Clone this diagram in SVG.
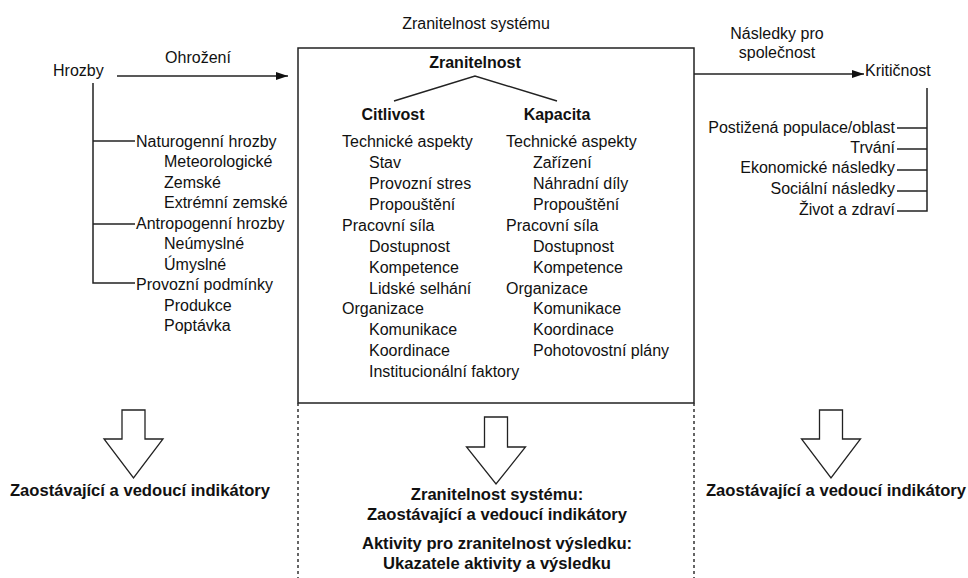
<svg xmlns="http://www.w3.org/2000/svg" width="968" height="578" viewBox="0 0 968 578">
<defs>
<marker id="ah" viewBox="0 0 12 8" refX="12" refY="4" markerWidth="12" markerHeight="8" markerUnits="userSpaceOnUse" orient="auto">
<path d="M0,0 L12,4 L0,8 Z" fill="#111"/>
</marker>
<style>
text{font-family:"Liberation Sans",Arial,sans-serif;font-size:16px;fill:#111}
.b{font-weight:bold}
.bb{font-weight:bold;font-size:16.6px}
.m{text-anchor:middle}
.e{text-anchor:end}
.ln{stroke:#222;stroke-width:1.5;fill:none}
.dash{stroke:#333;stroke-width:1.5;fill:none;stroke-dasharray:3 3}
.blk{fill:#fff;stroke:#222;stroke-width:1.3;stroke-linejoin:miter}
</style>
</defs>
<rect width="968" height="578" fill="#fff"/>

<g id="system-box">
<rect x="298" y="48" width="396" height="355" class="ln"/>
<line x1="298" y1="403" x2="298" y2="578" class="dash"/>
<line x1="694" y1="403" x2="694" y2="578" class="dash"/>
<text x="476" y="29" class="m">Zranitelnost systému</text>
</g>

<g id="zranitelnost">
<text x="475" y="68" class="b m">Zranitelnost</text>
<polyline points="394,101 475,76 557,101" class="ln"/>
</g>

<g id="citlivost">
<text x="393" y="120" class="b m">Citlivost</text>
<text x="342" y="147.2">Technické aspekty</text>
<text x="369" y="168.1">Stav</text>
<text x="369" y="189">Provozní stres</text>
<text x="369" y="209.9">Propouštění</text>
<text x="342" y="230.8">Pracovní síla</text>
<text x="369" y="251.7">Dostupnost</text>
<text x="369" y="272.6">Kompetence</text>
<text x="369" y="293.5">Lidské selhání</text>
<text x="342" y="314.4">Organizace</text>
<text x="369" y="335.3">Komunikace</text>
<text x="369" y="356.2">Koordinace</text>
<text x="369" y="377.1">Institucionální faktory</text>
</g>

<g id="kapacita">
<text x="557" y="120" class="b m">Kapacita</text>
<text x="506" y="147.2">Technické aspekty</text>
<text x="533" y="168.1">Zařízení</text>
<text x="533" y="189">Náhradní díly</text>
<text x="533" y="209.9">Propouštění</text>
<text x="506" y="230.8">Pracovní síla</text>
<text x="533" y="251.7">Dostupnost</text>
<text x="533" y="272.6">Kompetence</text>
<text x="506" y="293.5">Organizace</text>
<text x="533" y="314.4">Komunikace</text>
<text x="533" y="335.3">Koordinace</text>
<text x="533" y="356.2">Pohotovostní plány</text>
</g>

<g id="hrozby">
<text x="53" y="75.5">Hrozby</text>
<text x="136" y="146.5">Naturogenní hrozby</text>
<text x="164" y="167">Meteorologické</text>
<text x="164" y="187.5">Zemské</text>
<text x="164" y="208">Extrémní zemské</text>
<text x="136" y="228.5">Antropogenní hrozby</text>
<text x="164" y="249">Neúmyslné</text>
<text x="164" y="269.5">Úmyslné</text>
<text x="136" y="290">Provozní podmínky</text>
<text x="164" y="310.5">Produkce</text>
<text x="164" y="331">Poptávka</text>
</g>

<g id="kriticnost">
<text x="865" y="75.5">Kritičnost</text>
<text x="895" y="132.5" class="e">Postižená populace/oblast</text>
<text x="895" y="152.5" class="e">Trvání</text>
<text x="895" y="172.5" class="e">Ekonomické následky</text>
<text x="895" y="193.5" class="e">Sociální následky</text>
<text x="895" y="214.5" class="e">Život a zdraví</text>
</g>

<g id="indicators-left">
<polygon points="122,410 145,410 145,439 163,439 133.5,478 104,439 122,439" class="blk"/>
<text x="140" y="496" class="bb m">Zaostávající a vedoucí indikátory</text>
</g>

<g id="indicators-middle">
<polygon points="484.5,417 507.5,417 507.5,447 525.5,447 496,484 466.5,447 484.5,447" class="blk"/>
<text x="497" y="500" class="bb m">Zranitelnost systému:</text>
<text x="497" y="520" class="bb m">Zaostávající a vedoucí indikátory</text>
<text x="497" y="549" class="bb m">Aktivity pro zranitelnost výsledku:</text>
<text x="497" y="569" class="bb m">Ukazatele aktivity a výsledku</text>
</g>

<g id="indicators-right">
<polygon points="819.5,410 842.5,410 842.5,439 860.5,439 831,478 801.5,439 819.5,439" class="blk"/>
<text x="836" y="496" class="bb m">Zaostávající a vedoucí indikátory</text>
</g>

<g id="connectors">
<line x1="117" y1="76" x2="288" y2="76" class="ln" marker-end="url(#ah)"/>
<text x="198" y="62.5" class="m">Ohrožení</text>
<polyline points="93,83 93,283 135,283" class="ln"/>
<line x1="93" y1="141" x2="135" y2="141" class="ln"/>
<line x1="93" y1="224" x2="135" y2="224" class="ln"/>
<line x1="694" y1="74" x2="864" y2="74" class="ln" marker-end="url(#ah)"/>
<text x="777" y="38.5" class="m">Následky pro</text>
<text x="777" y="57.5" class="m">společnost</text>
<polyline points="927,88 927,211 897,211" class="ln"/>
<line x1="897" y1="128" x2="927" y2="128" class="ln"/>
<line x1="897" y1="149" x2="927" y2="149" class="ln"/>
<line x1="897" y1="170" x2="927" y2="170" class="ln"/>
<line x1="897" y1="191" x2="927" y2="191" class="ln"/>
</g>
</svg>
